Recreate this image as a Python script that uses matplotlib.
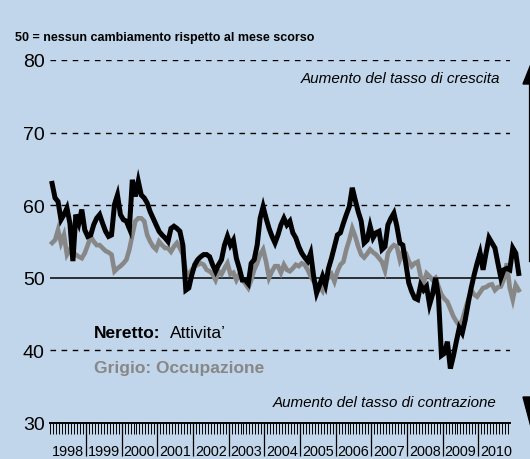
import numpy as np
import matplotlib as mpl
mpl.use('Agg')
import matplotlib.pyplot as plt
from matplotlib.lines import Line2D
from matplotlib.patches import Polygon

mpl.rcParams['font.family'] = ['Liberation Sans', 'DejaVu Sans']

# monthly PMI readings, Jan 1998 onwards
start_year = 1998
attivita = [
    63.0, 61.0, 60.5, 58.0, 58.7, 59.6, 57.5, 52.3, 58.7, 57.5, 59.4, 56.6,
    55.7, 55.9, 57.3, 58.2, 58.7, 57.5, 56.4, 55.7, 55.9, 60.1, 61.4, 58.7,
    58.0, 57.8, 56.8, 63.5, 61.2, 63.3, 61.4, 61.0, 60.3, 59.1, 58.2, 57.3,
    56.4, 55.9, 55.5, 55.0, 56.8, 57.1, 56.8, 56.4, 54.5, 48.3, 48.6, 50.4,
    51.8, 52.5, 52.9, 53.2, 53.2, 52.9, 51.8, 50.9, 51.8, 52.5, 54.5, 55.7,
    54.5, 55.2, 52.7, 51.3, 49.7, 49.7, 49.2, 52.0, 52.5, 54.5, 58.2, 59.8,
    58.2, 56.8, 55.7, 54.8, 55.9, 57.3, 58.2, 57.3, 57.8, 56.2, 55.5, 54.3,
    53.4, 52.8, 52.3, 53.4, 50.2, 47.9, 49.0, 50.2, 49.0, 51.3, 52.7, 54.3,
    55.9, 56.2, 57.5, 58.7, 59.8, 62.4, 60.7, 59.1, 57.8, 54.8, 55.2, 57.1,
    55.5, 56.2, 56.4, 53.9, 54.3, 57.3, 58.2, 58.9, 57.1, 54.8, 54.5, 52.0,
    49.3, 48.1, 47.2, 47.0, 49.0, 48.3, 48.8, 46.3, 47.7, 50.0, 47.4, 39.3,
    39.6, 41.2, 37.5, 39.2, 41.2, 43.1, 42.4, 44.2, 46.5, 48.6, 50.4, 52.0,
    53.4, 51.1, 53.4, 55.5, 54.8, 54.1, 52.0, 50.0, 51.1, 51.3, 51.1, 54.1,
    53.4, 50.6,
]
occupazione = [
    54.8, 55.2, 56.6, 54.8, 55.9, 53.2, 53.9, 52.9, 53.2, 52.9, 52.7, 53.4,
    54.5, 55.7, 55.0, 54.5, 54.5, 54.1, 53.7, 53.5, 53.2, 50.9, 51.3, 51.6,
    52.0, 52.5, 53.9, 55.9, 57.8, 58.2, 58.2, 57.8, 55.9, 55.0, 54.3, 53.9,
    55.0, 54.5, 54.1, 54.1, 53.6, 54.3, 54.8, 54.1, 53.2, 50.9, 50.5, 51.1,
    51.6, 51.8, 52.0, 51.8, 51.1, 50.9, 50.5, 49.7, 50.9, 50.5, 51.3, 52.0,
    50.5, 50.7, 49.7, 50.5, 49.7, 49.2, 48.6, 49.7, 51.1, 52.0, 53.2, 53.9,
    52.2, 50.0, 50.9, 51.6, 51.6, 50.7, 51.8, 51.1, 50.9, 51.3, 51.8, 51.6,
    52.0, 51.8, 51.1, 50.2, 49.5, 49.1, 48.8, 48.2, 49.7, 50.0, 50.5, 49.5,
    50.9, 51.8, 52.2, 53.9, 55.2, 56.8, 55.7, 54.3, 53.2, 52.8, 53.3, 53.9,
    53.5, 53.2, 52.7, 52.2, 51.0, 53.4, 54.1, 54.5, 54.3, 52.5, 53.6, 53.4,
    52.3, 51.6, 52.0, 52.2, 50.2, 49.3, 50.6, 50.2, 49.7, 50.0, 48.8, 47.7,
    47.1, 46.7, 45.7, 44.7, 44.0, 43.4, 44.2, 45.6, 47.0, 48.3, 47.7, 47.4,
    48.0, 48.6, 48.7, 49.0, 49.1, 48.3, 48.7, 48.8, 49.8, 52.0, 48.6, 47.0,
    49.0, 48.3,
]
years = list(range(1998, 2011))
yticks = [30, 40, 50, 60, 70, 80]
grid_levels = [40, 60, 70, 80]

bg = '#c1d6ea'
grey = '#878787'
W, H = 530.0, 460.0

fig = plt.figure(figsize=(5.3, 4.6), dpi=100, facecolor=bg)
ax = fig.add_axes([50.3 / W, 36 / H, 460.1 / W, 363 / H])
ax.set_facecolor(bg)

t = start_year + (np.arange(len(attivita)) + 0.6) / 12.0

for lev in grid_levels:
    ax.axhline(lev, color='black', lw=1.0, ls=(0, (4, 4)), zorder=1)
ax.axhline(50, color='black', lw=1.1, zorder=1)

ax.plot(t, occupazione, color=grey, lw=3.3, solid_joinstyle='miter', clip_on=False, zorder=2)
ax.plot(t, attivita, color='black', lw=3.6, solid_joinstyle='miter', clip_on=False, zorder=3)

ax.set_xlim(1998, 2010.9)
ax.set_ylim(30, 80)

for s in ['top', 'right', 'left']:
    ax.spines[s].set_visible(False)
ax.spines['bottom'].set_linewidth(1.4)

ax.set_yticks(yticks)
ax.set_yticklabels([str(v) for v in yticks], fontsize=14)
ax.tick_params(axis='y', length=0, pad=4)

ax.set_xticks(years[1:])
ax.set_xticklabels([])
ax.set_xticks(start_year + np.arange(0, 155) / 12.0, minor=True)
ax.tick_params(axis='x', which='major', length=24, width=0.9, direction='out')
ax.tick_params(axis='x', which='minor', length=8, width=0.7, direction='out')

for yr in years:
    ax.text(yr + 0.5, -0.077, str(yr), transform=ax.get_xaxis_transform(),
            ha='center', va='center', fontsize=10.4)

# titles and notes
fig.text(15 / W, 1 - 38 / H, '50 = nessun cambiamento rispetto al mese scorso',
         fontweight='bold', fontsize=9, ha='left', va='center')
fig.text(500 / W, 1 - 79 / H, 'Aumento del tasso di crescita', style='italic',
         fontsize=11, ha='right', va='center')
fig.text(497 / W, 1 - 403 / H, 'Aumento del tasso di contrazione', style='italic',
         fontsize=10.9, ha='right', va='center')
fig.text(94 / W, 1 - 334 / H, 'Neretto:', fontweight='bold', fontsize=12.5,
         ha='left', va='center')
fig.text(170 / W, 1 - 334 / H, 'Attivita\u2019', fontsize=12.5, ha='left', va='center')
fig.text(94 / W, 1 - 368 / H, 'Grigio: Occupazione', fontweight='bold', fontsize=12.5,
         color=grey, ha='left', va='center')

# cropped arrows on the right edge
fig.add_artist(Line2D([529.5 / W, 529.5 / W], [1 - 84 / H, 1 - 262 / H],
                      color='black', lw=1.6, transform=fig.transFigure))
fig.add_artist(Polygon([[531 / W, 1 - 65 / H], [523 / W, 1 - 85 / H], [539 / W, 1 - 85 / H]],
                       closed=True, color='black', transform=fig.transFigure))
fig.add_artist(Polygon([[523 / W, 1 - 398 / H], [539 / W, 1 - 398 / H], [531 / W, 1 - 428 / H]],
                       closed=True, color='black', transform=fig.transFigure))

fig.savefig('out.png', dpi=100, facecolor=bg)
